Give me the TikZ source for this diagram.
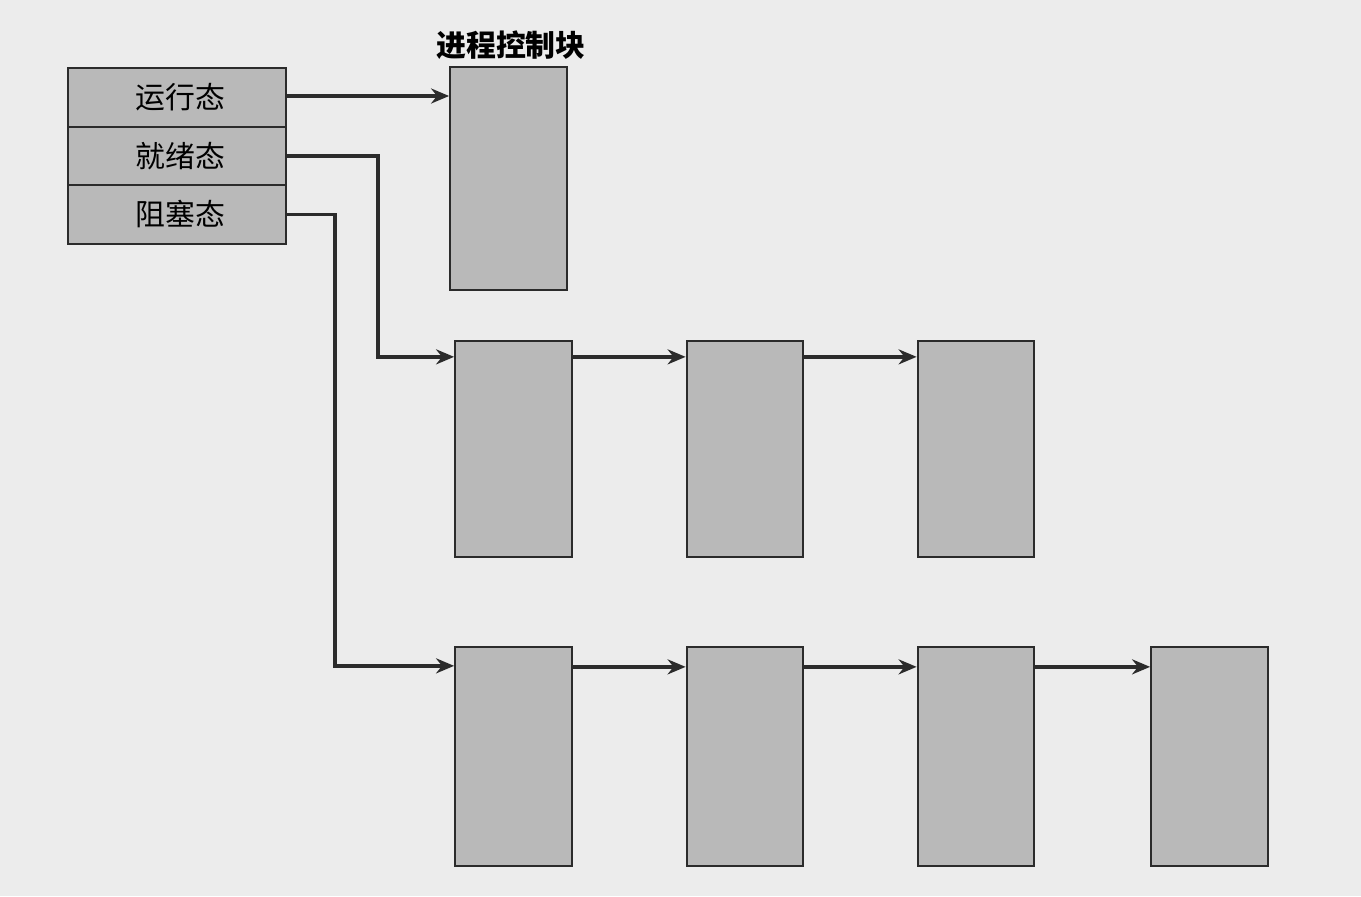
\documentclass[tikz,border=0pt]{standalone}
\usepackage{fontspec}
\setmainfont{Noto Sans CJK SC}
\usepackage{tikz}
\usetikzlibrary{arrows.meta,positioning,calc}
\definecolor{paper}{HTML}{ECECEC}
\definecolor{boxfill}{HTML}{B9B9B9}
\definecolor{ink}{HTML}{2B2B2B}

\begin{document}
\begin{tikzpicture}[font=\fontsize{17}{20}\selectfont,
  st/.style={draw=ink,fill=boxfill,line width=1.3pt,minimum width=4.36cm,minimum height=1.17cm,inner sep=0pt},
  pcb/.style={draw=ink,fill=boxfill,line width=1.3pt,minimum width=2.33cm,inner sep=0pt},
  arr/.style={-{Stealth[length=3.6mm,width=3mm]},ink,line width=1.9pt}]
\fill[paper] (0,0) rectangle (27.22,-17.92);
\useasboundingbox (0,0) rectangle (27.22,-17.92);
% state table
\node[st] (run) at (3.54,-1.95) {\hspace*{0.15cm}运行态};
\node[st] (ready) at (3.54,-3.12) {\hspace*{0.15cm}就绪态};
\node[st] (block) at (3.54,-4.29) {\hspace*{0.15cm}阻塞态};
% process control blocks
\node[font=\fontsize{17}{20}\selectfont\bfseries] (title) at (10.22,-0.9) {进程控制块};
\node[pcb,minimum height=4.46cm] (p0) at (10.17,-3.57) {};
\node[pcb,minimum height=4.32cm] (r1) at (10.27,-8.98) {};
\node[pcb,minimum height=4.32cm] (r2) at (14.90,-8.98) {};
\node[pcb,minimum height=4.32cm] (r3) at (19.52,-8.98) {};
\node[pcb,minimum height=4.38cm] (b1) at (10.27,-15.13) {};
\node[pcb,minimum height=4.38cm] (b2) at (14.90,-15.13) {};
\node[pcb,minimum height=4.38cm] (b3) at (19.52,-15.13) {};
\node[pcb,minimum height=4.38cm] (b4) at (24.19,-15.13) {};
% queues
\draw[arr] ([yshift=0.03cm]run.east) -- ([yshift=0.03cm]run.east -| p0.west);
\draw[arr] (ready.east) -- ++(1.82,0) |- ([yshift=-0.34cm]r1.north west);
\draw[arr] (block.east) -- ++(0.96,0) |- ([yshift=-0.4cm]b1.north west);
\foreach \x/\y in {r1/r2,r2/r3} {\draw[arr] ([yshift=-0.34cm]\x.north east) -- ([yshift=-0.34cm]\y.north west);}
\foreach \x/\y in {b1/b2,b2/b3,b3/b4} {\draw[arr] ([yshift=-0.42cm]\x.north east) -- ([yshift=-0.42cm]\y.north west);}
\end{tikzpicture}
\end{document}
